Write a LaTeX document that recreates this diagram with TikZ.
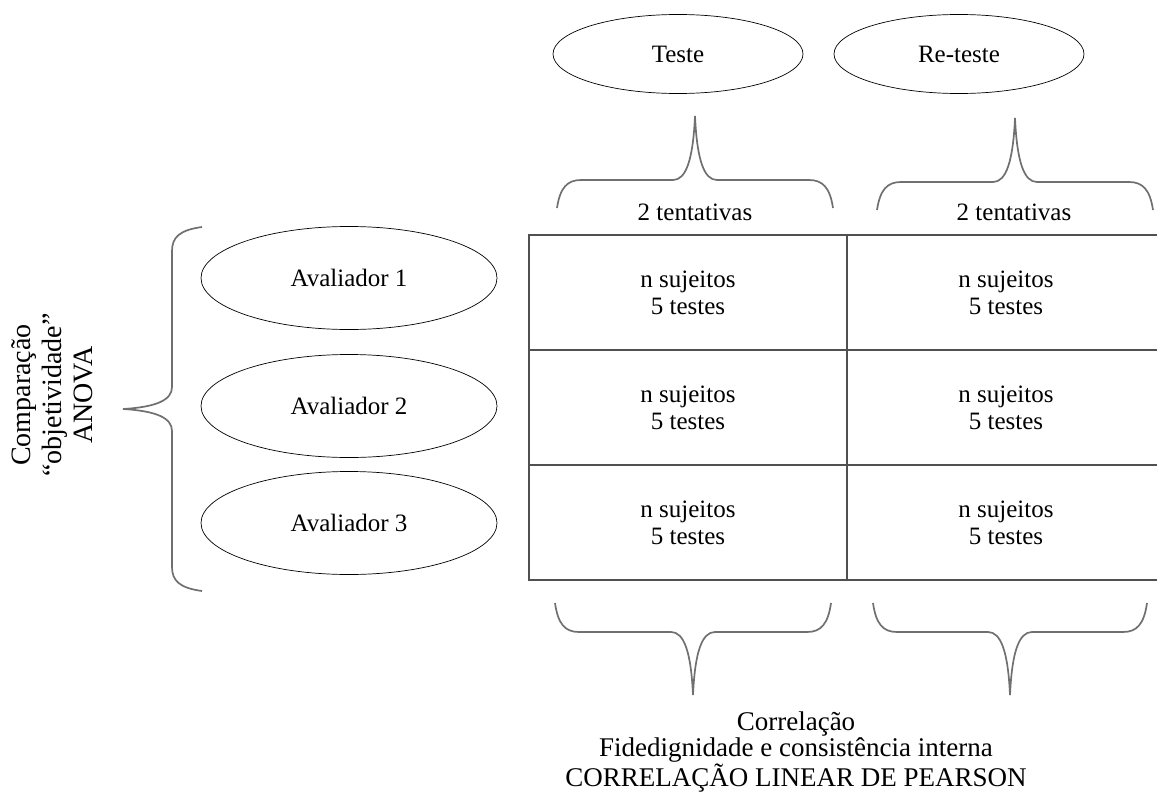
\documentclass[tikz,border=0pt]{standalone}
\usepackage{fontspec}
\setmainfont{Liberation Serif}
\usetikzlibrary{shapes.geometric}
\definecolor{cinzachave}{RGB}{112,112,112}
\definecolor{cinzatabela}{RGB}{80,80,80}
\tikzset{
  texto/.style={font=\fontsize{25}{27}\selectfont,align=center},
  etapa/.style={ellipse,draw,line width=0.7pt,minimum width=250pt,minimum height=79pt,inner sep=0pt,texto},
  avaliador/.style={ellipse,draw,line width=0.7pt,minimum width=296pt,minimum height=103pt,inner sep=0pt,texto},
  celula/.style={draw=cinzatabela,line width=1.1pt,minimum width=318pt,minimum height=115pt,inner sep=0pt,texto},
  chavetraco/.style={draw=cinzachave,line width=1.7pt},
  pics/chave/.style n args={3}{code={
    \draw[chavetraco] (-#1,#2) .. controls (-#1+3,8) and (-#1+10,0) .. (-#1+24,0) -- (-22,0)
      .. controls (-9,0) and (-2,-#3/3.2) .. (0,-#3)
      .. controls (2,-#3/3.2) and (9,0) .. (22,0) -- (#1-24,0)
      .. controls (#1-10,0) and (#1-3,8) .. (#1,#2);
  }}
}

\begin{document}
\begin{tikzpicture}[x=1pt,y=-1pt]
    \useasboundingbox (0,0) rectangle (1157,795);

    % teste e re-teste
    \node [etapa] (teste) at (678,54) {Teste};
    \node [etapa] (reteste) at (959,54) {Re-teste};
    \pic at (695,180) {chave={138}{28}{64}};
    \pic at (1015,182) {chave={138}{28}{64}};
    \node [texto] (tent1) at (695,212) {2 tentativas};
    \node [texto] (tent2) at (1014,212) {2 tentativas};

    % avaliadores
    \node [avaliador] (av1) at (349,278) {Avaliador 1};
    \node [avaliador] (av2) at (349,406) {Avaliador 2};
    \node [avaliador] (av3) at (349,523) {Avaliador 3};

    % tabela
    \node [celula] (c11) at (688,292.5) {n sujeitos\\5 testes};
    \node [celula] (c12) at (1006,292.5) {n sujeitos\\5 testes};
    \node [celula] (c21) at (688,407.5) {n sujeitos\\5 testes};
    \node [celula] (c22) at (1006,407.5) {n sujeitos\\5 testes};
    \node [celula] (c31) at (688,522.5) {n sujeitos\\5 testes};
    \node [celula] (c32) at (1006,522.5) {n sujeitos\\5 testes};

    % chaves de baixo e da esquerda
    \pic [yscale=-1] at (693,632) {chave={138}{29}{63}};
    \pic [yscale=-1] at (1010,632) {chave={137}{29}{63}};
    \pic [rotate=90] at (172,409) {chave={182}{30}{49}};

    \node [texto,font=\fontsize{28}{31}\selectfont,rotate=90] (anova) at (52,395)
      {Comparação\\“objetividade”\\ANOVA};
    \node [texto,font=\fontsize{27}{26}\selectfont] (pearson) at (796,752)
      {Correlação\\Fidedignidade e consistência interna\\CORRELAÇÃO LINEAR DE PEARSON};
\end{tikzpicture}
\end{document}
